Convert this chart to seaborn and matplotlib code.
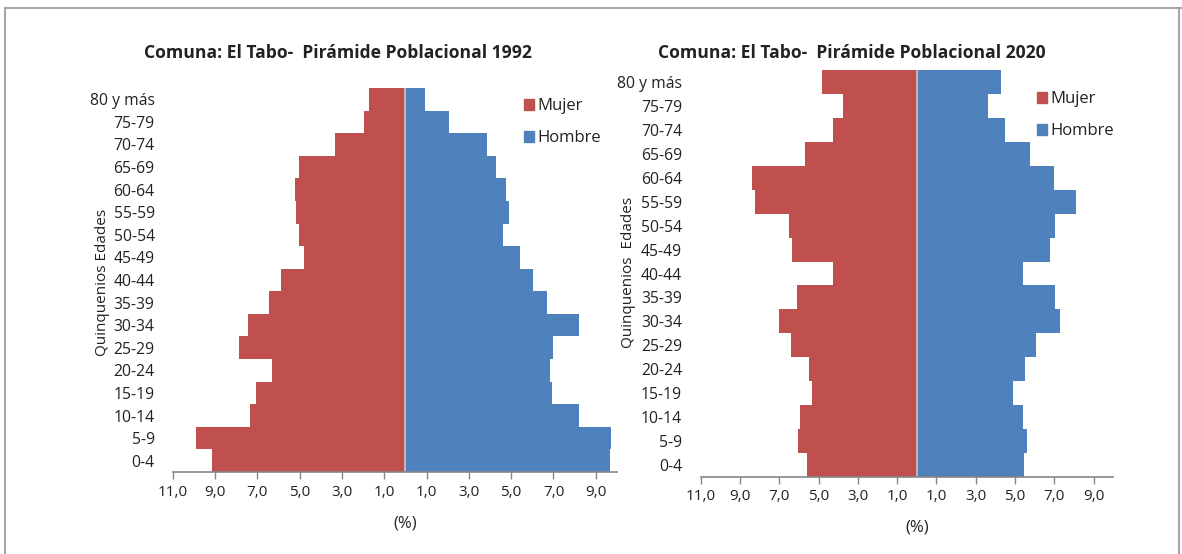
import pandas as pd
import matplotlib.pyplot as plt
import seaborn as sns
from matplotlib.patches import Patch
from matplotlib.lines import Line2D

# datos (% de la poblacion por quinquenio)
edades = ['80 y más', '75-79', '70-74', '65-69', '60-64', '55-59', '50-54', '45-49',
          '40-44', '35-39', '30-34', '25-29', '20-24', '15-19', '10-14', '5-9', '0-4']
mujer_1992 = [1.70, 1.95, 3.35, 5.05, 5.20, 5.18, 5.02, 4.77, 5.86, 6.45, 7.46, 7.85,
              6.32, 7.08, 7.36, 9.90, 9.15]
hombre_1992 = [0.95, 2.05, 3.88, 4.27, 4.76, 4.92, 4.60, 5.41, 6.03, 6.68, 8.19, 6.97,
               6.84, 6.92, 8.23, 9.70, 9.68]
mujer_2020 = [4.85, 3.75, 4.28, 5.68, 8.39, 8.24, 6.50, 6.34, 4.28, 6.08, 7.01, 6.40,
              5.51, 5.36, 5.93, 6.05, 5.57]
hombre_2020 = [4.30, 3.64, 4.49, 5.76, 6.99, 8.09, 7.05, 6.76, 5.38, 7.05, 7.27, 6.06,
               5.53, 4.87, 5.38, 5.60, 5.43]
ticks = [-11, -9, -7, -5, -3, -1, 1, 3, 5, 7, 9]
tick_labels = ['11,0', '9,0', '7,0', '5,0', '3,0', '1,0', '1,0', '3,0', '5,0', '7,0', '9,0']

colores = {'Mujer': '#C0504D', 'Hombre': '#4F81BD'}
gris_texto = '#222222'

sns.set_style('white')
plt.rcParams['font.family'] = ['Open Sans', 'DejaVu Sans']
W, H = 1182, 554
fig = plt.figure(figsize=(W / 100, H / 100), dpi=100)


def piramide(rect, mujer, hombre, titulo, ypad, titulo_xy, ylab_xy, ylab, leg_xy):
    ax = fig.add_axes(rect)
    df = pd.DataFrame({
        'Edad': edades * 2,
        'Sexo': ['Mujer'] * len(edades) + ['Hombre'] * len(edades),
        'Valor': [-v for v in mujer] + hombre,
    })
    sns.barplot(data=df, x='Valor', y='Edad', hue='Sexo', order=edades,
                hue_order=['Mujer', 'Hombre'], palette=colores, dodge=False,
                width=1, orient='h', saturation=1, linewidth=0, errorbar=None,
                legend=False, ax=ax)
    ax.axvline(0, color='#C8C8C8', lw=1.2)
    ax.set_xlim(-11, 10)
    ax.set_xticks(ticks)
    ax.set_xticklabels(tick_labels)
    ax.set_xlabel('')
    ax.set_ylabel('')
    for s in ['top', 'right', 'left']:
        ax.spines[s].set_visible(False)
    ax.spines['bottom'].set_color('#868686')
    ax.spines['bottom'].set_linewidth(1.2)
    ax.tick_params(axis='x', length=5, color='#868686', width=1, pad=4,
                   labelsize=11, labelcolor=gris_texto, bottom=True)
    ax.tick_params(axis='y', length=0, pad=ypad, labelsize=11.3, labelcolor=gris_texto)
    # titulo, etiquetas y leyenda
    fig.text(titulo_xy[0] / W, 1 - titulo_xy[1] / H, titulo, ha='center', va='center',
             fontsize=12.6, fontweight='bold', color=gris_texto)
    fig.text(ylab_xy[0] / W, 1 - ylab_xy[1] / H, ylab, rotation=90, ha='center',
             va='center', fontsize=11, color=gris_texto)
    handles = [Patch(color=colores[k]) for k in ['Mujer', 'Hombre']]
    fig.legend(handles, ['Mujer', 'Hombre'], loc='upper left',
               bbox_to_anchor=(leg_xy[0] / W, 1 - leg_xy[1] / H), frameon=False,
               handlelength=0.6, handleheight=0.6, handletextpad=0.2,
               labelspacing=0.95, fontsize=12, borderpad=0, labelcolor=gris_texto)
    return ax


ax1 = piramide([172.7 / W, 1 - 472 / H, 444.2 / W, 384 / H], mujer_1992, hombre_1992,
               'Comuna: El Tabo-  Pirámide Poblacional 1992', 13,
               (338, 53), (102, 282), 'Quinquenios Edades', (516, 90))
ax2 = piramide([700.7 / W, 1 - 477 / H, 412.6 / W, 407 / H], mujer_2020, hombre_2020,
               'Comuna: El Tabo-  Pirámide Poblacional 2020', 13.5,
               (852, 53), (628, 272), 'Quinquenios  Edades', (1029, 83))

fig.text(405.5 / W, 1 - 523 / H, '(%)', ha='center', va='center', fontsize=12,
         color=gris_texto)
fig.text(916.7 / W, 1 - 528 / H, '(%)', ha='center', va='center', fontsize=12,
         color=gris_texto)

# marco de la pagina
fig.add_artist(Line2D([5 / W, 1], [1 - 8 / H, 1 - 8 / H], color='#A6A6A6', lw=1.5,
                      transform=fig.transFigure))
fig.add_artist(Line2D([5 / W, 5 / W], [0, 1 - 8 / H], color='#A6A6A6', lw=1.5,
                      transform=fig.transFigure))
fig.add_artist(Line2D([1179 / W, 1179 / W], [0, 1 - 8 / H], color='#A6A6A6', lw=1.5,
                      transform=fig.transFigure))

fig.savefig('out.png', dpi=100)
